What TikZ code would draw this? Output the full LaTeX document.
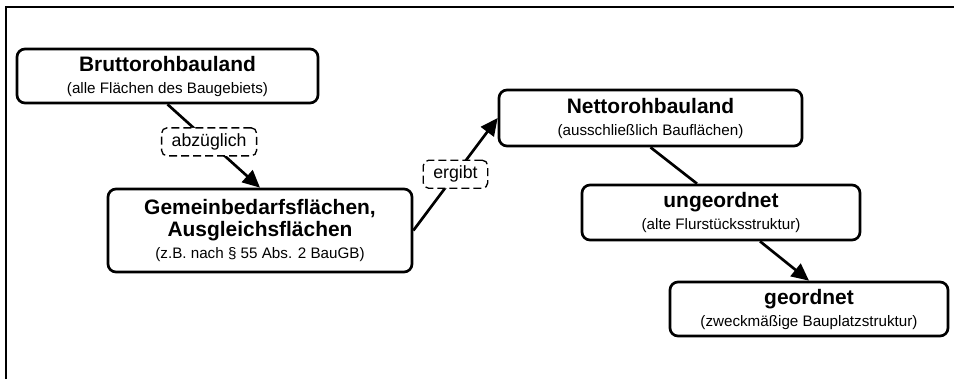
\documentclass[tikz,border=0pt]{standalone}
\usepackage{fontspec}
\setmainfont{Liberation Sans}
\usetikzlibrary{arrows.meta}
\pgfkeys{tikz/feld/.style={draw,line width=2pt,rounded corners=6pt,align=center,inner sep=0pt,font=\fontsize{11.4}{16.5}\selectfont}}
\pgfkeys{tikz/hinweis/.style={draw,dash pattern=on 6pt off 3pt,line width=1pt,rounded corners=4pt,fill=white,inner sep=0pt,inner xsep=7.5pt,minimum height=21pt,font=\fontsize{13.3}{15}\selectfont}}
\newcommand{\kopf}[1]{{\fontsize{15.7}{16.5}\selectfont\bfseries #1}}

\begin{document}
\begin{tikzpicture}[x=0.75pt,y=-0.75pt,>={Triangle[length=13pt,width=12pt]}]
  \useasboundingbox (0,0) rectangle (954,379);
  \draw[line width=1pt] (6,379) -- (6,7) -- (954,7);

  \node[feld,minimum width=225.75pt,minimum height=40.5pt] (brutto) at (167.5,76) {\kopf{Bruttorohbauland}\\(alle Flächen des Baugebiets)};
  \node[feld,minimum width=228pt,minimum height=62.25pt] (gemein) at (260,230.5) {\kopf{Gemeinbedarfsflächen,}\\\kopf{Ausgleichsflächen}\\(z.B. nach § 55 Abs. 2 BauGB)};
  \node[feld,minimum width=227.25pt,minimum height=42pt] (netto) at (650.5,118) {\kopf{Nettorohbauland}\\(ausschließlich Bauflächen)};
  \node[feld,minimum width=208.5pt,minimum height=41.25pt] (unge) at (721,212.5) {\kopf{ungeordnet}\\(alte Flurstücksstruktur)};
  \node[feld,minimum width=208.5pt,minimum height=40.5pt] (geord) at (809,309) {\kopf{geordnet}\\(zweckmäßige Bauplatzstruktur)};

  \draw[->,line width=2pt] (brutto.south) -- node[hinweis,pos=0.45] (abz) {abzüglich} (gemein.north);
  \draw[->,line width=2pt] (gemein.east) -- node[hinweis,pos=0.5] (erg) {ergibt} (netto.west);
  \draw[line width=2pt] (netto.south) -- ([xshift=-18pt]unge.north);
  \draw[->,line width=2pt] ([xshift=29.25pt]unge.south) -- (geord.north);
\end{tikzpicture}
\end{document}
